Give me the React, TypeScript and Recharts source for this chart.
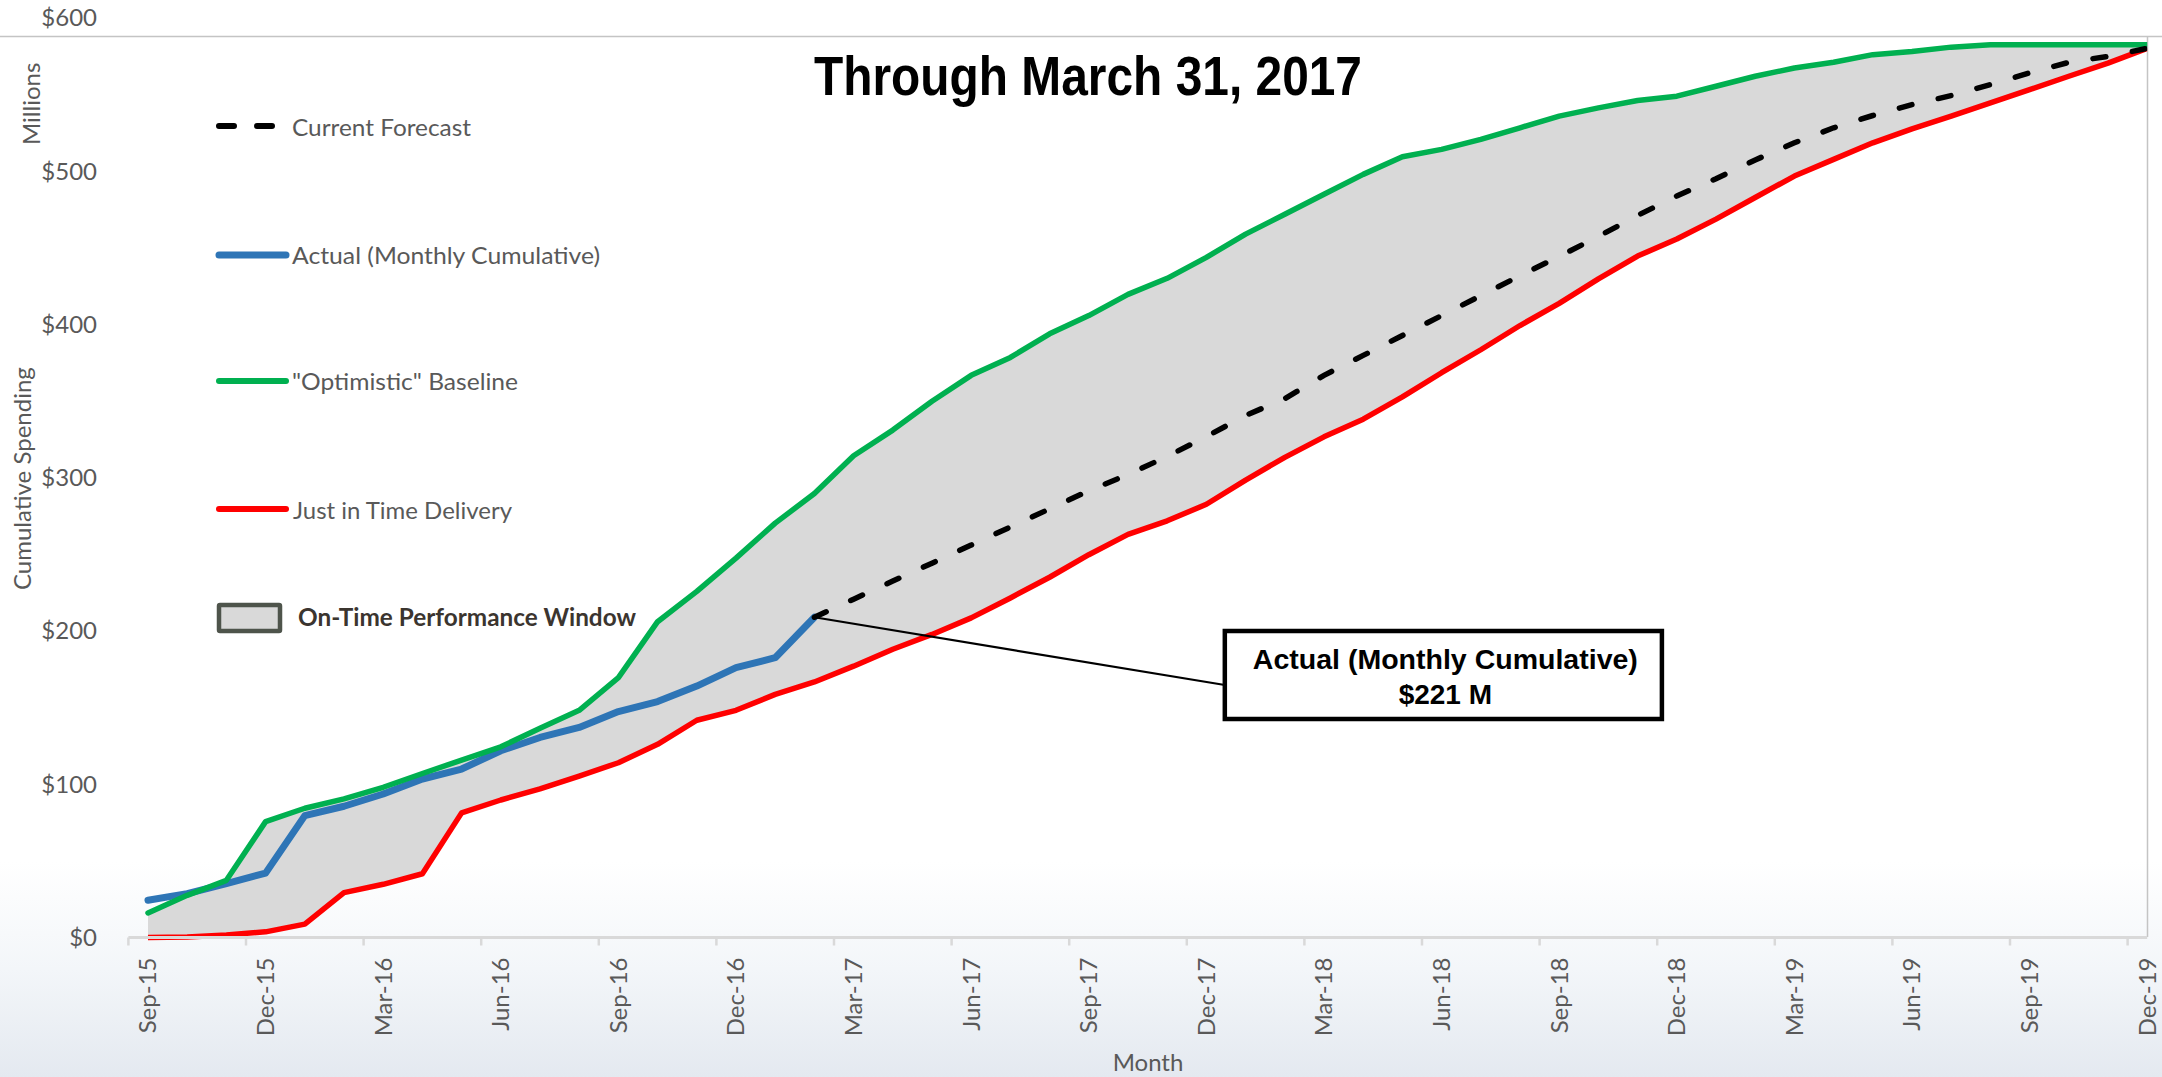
import {
  Area,
  ComposedChart,
  Line,
  ReferenceArea,
  ReferenceLine,
  XAxis,
  YAxis,
} from "recharts";

const months = [
  "Sep-15", "Oct-15", "Nov-15", "Dec-15", "Jan-16", "Feb-16", "Mar-16", "Apr-16", "May-16", "Jun-16",
  "Jul-16", "Aug-16", "Sep-16", "Oct-16", "Nov-16", "Dec-16", "Jan-17", "Feb-17", "Mar-17", "Apr-17",
  "May-17", "Jun-17", "Jul-17", "Aug-17", "Sep-17", "Oct-17", "Nov-17", "Dec-17", "Jan-18", "Feb-18",
  "Mar-18", "Apr-18", "May-18", "Jun-18", "Jul-18", "Aug-18", "Sep-18", "Oct-18", "Nov-18", "Dec-18",
  "Jan-19", "Feb-19", "Mar-19", "Apr-19", "May-19", "Jun-19", "Jul-19", "Aug-19", "Sep-19", "Oct-19",
  "Nov-19", "Dec-19",
];

// "Optimistic" baseline ($M)
const optimistic = [
  16, 27.5, 37.3, 75.6, 84.3, 90.4, 98, 107, 115.7, 124.4,
  136.5, 148.2, 169.5, 206, 225.8, 247.5, 270.3, 289.6, 314.3, 331,
  349.8, 366.7, 378.4, 393.8, 405.7, 419.5, 430, 443.7, 458.8, 471.8,
  484.8, 497.8, 509.3, 514.1, 520.6, 528.2, 535.8, 541.2, 546, 548.8,
  555.3, 561.8, 567.2, 570.9, 575.9, 578, 580.8, 582.3, 582.3, 582.3,
  582.3, 582.3,
];

// Just in Time Delivery ($M)
const justInTime = [
  0, 0.4, 1.7, 3.7, 8.7, 29.3, 34.7, 41.6, 81.3, 89.7,
  96.9, 105.3, 114, 126, 141.7, 148.2, 158.6, 166.7, 177, 188,
  197.7, 208.5, 221.5, 235, 249.7, 263, 271.8, 282.6, 298.4, 313.2,
  326.6, 338.1, 352.6, 368.4, 383.4, 399.2, 413.7, 429.6, 444.5, 455.6,
  468.6, 482.7, 496.7, 507.6, 518.4, 527.5, 535.8, 544.4, 553.1, 561.8,
  570.4, 580,
];

// Actual (monthly cumulative), Sep-15 .. Feb-17
const actual = [
  24.3, 28.6, 35.1, 42, 79.5, 85.6, 93.6, 103.4, 109.9, 121.8,
  130.5, 137, 147.4, 153.9, 164, 176, 182.5, 208.9,
];

// Current forecast, Feb-17 .. Dec-19
const forecast = [
  208.9, 220.7, 232.5, 244.2, 256, 267.8, 279.6, 291.4, 302, 313.8,
  326.8, 340.5, 351.5, 366.7, 379.7, 392.7, 405.7, 418.7, 431.7, 444.3,
  457.3, 471, 483.7, 495, 507.2, 518.4, 528.2, 536.2, 543.3, 549.2,
  556.4, 564, 570.9, 574.8, 580,
];

const yTicks = [0, 100, 200, 300, 400, 500, 600];
const xTicks = [0, 3, 6, 9, 12, 15, 18, 21, 24, 27, 30, 33, 36, 39, 42, 45, 48, 51];

const forecastStart = actual.length - 1;
const data = months.map((m, i) => ({
  i,
  month: m,
  opt: optimistic[i],
  jit: justInTime[i],
  actual: i < actual.length ? actual[i] : null,
  forecast: i >= forecastStart ? forecast[i - forecastStart] : null,
}));

const W = 2162;
const H = 1077;
const Y_W = 128.4;
const M_TOP = 17.7;
const M_RIGHT = 14.8;
const X_H = 139.5;
const HALF_BAND = (W - Y_W - M_RIGHT) / 51.5 / 2;

const GRAY = "#595959";
const LATO = "Lato, 'Open Sans', sans-serif";
const ARIAL = "'Liberation Sans', Arial, sans-serif";

function MonthTick(props: any) {
  const { x, y, payload } = props;
  return (
    <g>
      <line x1={x - HALF_BAND} x2={x - HALF_BAND} y1={y} y2={y + 8} stroke="#d9d9d9" strokeWidth={2.5} />
      {payload.value === xTicks[xTicks.length - 1] && (
        <line x1={x + HALF_BAND} x2={x + HALF_BAND} y1={y} y2={y + 8} stroke="#d9d9d9" strokeWidth={2.5} />
      )}
      <text
        x={x}
        y={y + 20}
        dy="0.35em"
        textAnchor="end"
        transform={`rotate(-90, ${x}, ${y + 20})`}
        fill={GRAY}
        fontSize={24}
        fontFamily={LATO}
      >
        {months[payload.value]}
      </text>
    </g>
  );
}

function CalloutText(props: any) {
  const { viewBox } = props;
  if (!viewBox) return null;
  const cx = viewBox.x + viewBox.width / 2;
  return (
    <g fontFamily={ARIAL} fontWeight="bold" fill="#000" textAnchor="middle">
      <text x={cx + 2} y={viewBox.y + 38} fontSize={28} textLength={385} lengthAdjust="spacingAndGlyphs">
        Actual (Monthly Cumulative)
      </text>
      <text x={cx + 2} y={viewBox.y + 73} fontSize={28}>
        $221 M
      </text>
    </g>
  );
}

function Backdrop() {
  return (
    <svg width={W} height={H} style={{ position: "absolute", left: 0, top: 0 }}>
      <defs>
        <linearGradient id="floor" x1="0" y1="0" x2="0" y2="1">
          <stop offset="0.8" stopColor="#ffffff" />
          <stop offset="0.9" stopColor="#f3f6f9" />
          <stop offset="1" stopColor="#e4e9f0" />
        </linearGradient>
      </defs>
      <rect x={0} y={0} width={W} height={H} fill="url(#floor)" />
      <line x1={0} x2={W} y1={36.5} y2={36.5} stroke="#c4c4c4" strokeWidth={1.5} />
      <line x1={2147.5} x2={2147.5} y1={36.5} y2={937} stroke="#c4c4c4" strokeWidth={1.5} />

      <text
        x={814}
        y={95}
        fontFamily={ARIAL}
        fontWeight="bold"
        fontSize={56}
        textLength={548}
        lengthAdjust="spacingAndGlyphs"
        fill="#000"
      >
        Through March 31, 2017
      </text>

      <text transform="rotate(-90, 40, 145)" x={40} y={145} fill={GRAY} fontSize={24} fontFamily={LATO}>
        Millions
      </text>
      <text transform="rotate(-90, 31, 590)" x={31} y={590} fill={GRAY} fontSize={24} fontFamily={LATO}>
        Cumulative Spending
      </text>
      <text x={1148} y={1071} textAnchor="middle" fill={GRAY} fontSize={24} fontFamily={LATO}>
        Month
      </text>

      <g fontFamily={LATO} fontSize={24} fill={GRAY}>
        <line x1={219} x2={273} y1={126} y2={126} stroke="#000" strokeWidth={6} strokeDasharray="15 23" strokeLinecap="round" />
        <text x={292} y={136} textLength={179} lengthAdjust="spacingAndGlyphs">Current Forecast</text>

        <line x1={219} x2={286} y1={255} y2={255} stroke="#2e75b6" strokeWidth={7} strokeLinecap="round" />
        <text x={292} y={264} textLength={308} lengthAdjust="spacingAndGlyphs">Actual (Monthly Cumulative)</text>

        <line x1={219} x2={286} y1={381} y2={381} stroke="#00b050" strokeWidth={6} strokeLinecap="round" />
        <text x={292} y={390} textLength={226} lengthAdjust="spacingAndGlyphs">"Optimistic" Baseline</text>

        <line x1={219} x2={286} y1={509} y2={509} stroke="#ff0000" strokeWidth={6} strokeLinecap="round" />
        <text x={293} y={519} textLength={219} lengthAdjust="spacingAndGlyphs">Just in Time Delivery</text>

        <rect x={219} y={605} width={61} height={26} fill="#d9d9d9" stroke="#4e544b" strokeWidth={4.5} rx={1} />
        <text x={298} y={626} fontWeight="bold" fill="#3b352f" textLength={338} lengthAdjust="spacingAndGlyphs">
          On-Time Performance Window
        </text>
      </g>
    </svg>
  );
}

export default function App() {
  return (
    <div style={{ position: "absolute", left: 0, top: 0, width: W, height: H, overflow: "hidden" }}>
      <Backdrop />
      <div style={{ position: "absolute", left: 0, top: 0 }}>
        <ComposedChart
          width={W}
          height={H}
          data={data}
          margin={{ top: M_TOP, right: M_RIGHT, bottom: 0, left: 0 }}
        >
          <XAxis
            dataKey="i"
            type="number"
            domain={[-0.5, 51]}
            ticks={xTicks}
            interval={0}
            height={X_H}
            tickSize={0}
            tickMargin={0}
            tickLine={false}
            axisLine={{ stroke: "#d9d9d9", strokeWidth: 3 }}
            tick={<MonthTick />}
            allowDataOverflow
          />
          <YAxis
            type="number"
            domain={[0, 600]}
            ticks={yTicks}
            width={Y_W}
            tickSize={0}
            tickMargin={31.4}
            axisLine={false}
            tickLine={false}
            tickFormatter={(v: number) => `$${v}`}
            tick={{ fill: GRAY, fontSize: 24, fontFamily: LATO }}
          />
          <Area
            dataKey={(d: any) => [d.jit, d.opt]}
            type="linear"
            fill="#d9d9d9"
            fillOpacity={1}
            stroke="none"
            isAnimationActive={false}
            activeDot={false}
          />
          <Line dataKey="jit" type="linear" stroke="#ff0000" strokeWidth={5.5} dot={false} activeDot={false} strokeLinejoin="round" isAnimationActive={false} />
          <Line dataKey="actual" type="linear" stroke="#2e75b6" strokeWidth={7} dot={false} activeDot={false} strokeLinejoin="round" strokeLinecap="round" isAnimationActive={false} />
          <Line dataKey="opt" type="linear" stroke="#00b050" strokeWidth={5.5} dot={false} activeDot={false} strokeLinejoin="round" strokeLinecap="round" isAnimationActive={false} />
          <Line
            dataKey="forecast"
            type="linear"
            stroke="#000"
            strokeWidth={5.5}
            strokeDasharray="13 27"
            strokeLinecap="round"
            dot={false}
            activeDot={false}
            isAnimationActive={false}
          />
          <ReferenceLine
            segment={[
              { x: forecastStart, y: actual[forecastStart] },
              { x: 27.47, y: 164.7 },
            ]}
            stroke="#000"
            strokeWidth={2.2}
          />
          <ReferenceArea
            x1={27.47}
            x2={38.62}
            y1={142.5}
            y2={199.9}
            fill="#ffffff"
            fillOpacity={1}
            stroke="#000"
            strokeWidth={4.5}
            label={<CalloutText />}
          />
        </ComposedChart>
      </div>
    </div>
  );
}
